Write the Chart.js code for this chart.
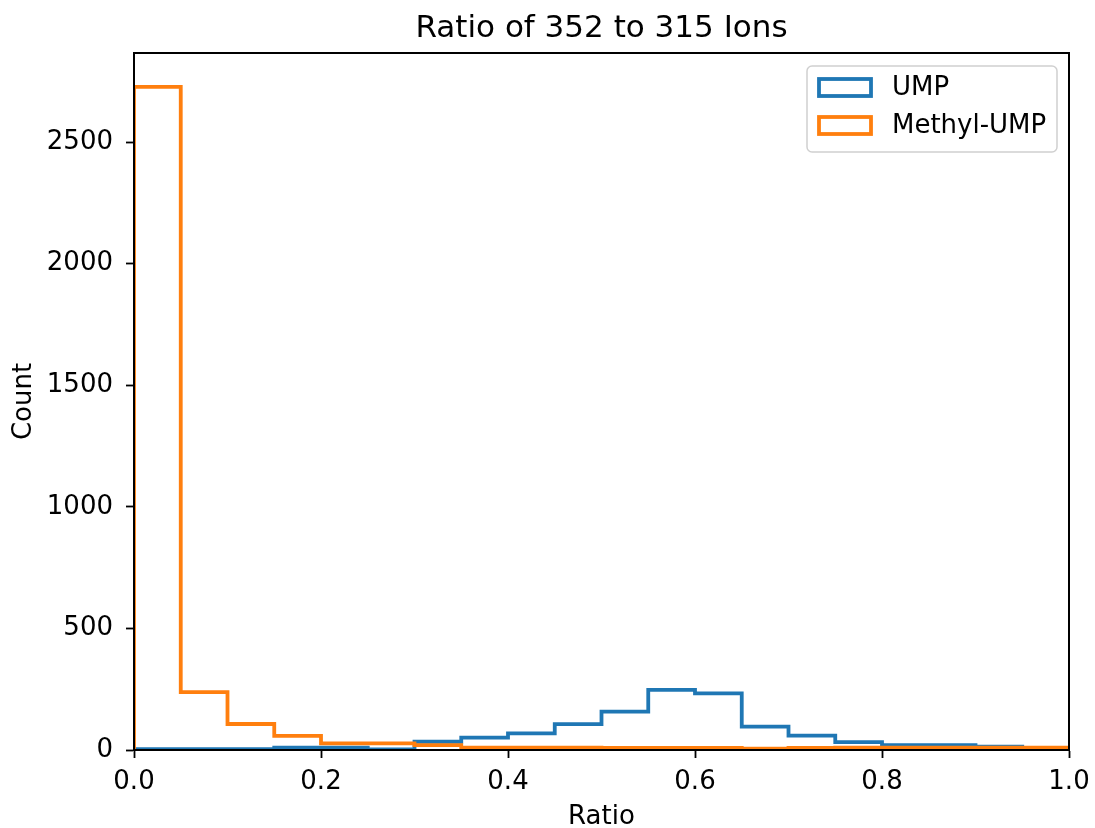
<!DOCTYPE html>
<html>
<head>
<meta charset="utf-8">
<script src="https://cdn.jsdelivr.net/npm/chart.js@4.4.1/dist/chart.umd.min.js"></script>
<style>
  html, body { margin: 0; padding: 0; background: #ffffff; }
  #wrap { width: 1095px; height: 828px; position: relative; }
</style>
</head>
<body>
<div id="wrap"><canvas id="c" width="1095" height="828"></canvas></div>
<script>
// ---- Data ----
const binEdges = [0.00, 0.05, 0.10, 0.15, 0.20, 0.25, 0.30, 0.35, 0.40, 0.45,
                  0.50, 0.55, 0.60, 0.65, 0.70, 0.75, 0.80, 0.85, 0.90, 0.95, 1.00];
const umpCounts = [3, 3, 3, 10, 10, 2, 34, 51, 68, 106,
                   158, 247, 233, 96, 59, 32, 20, 20, 14, 0];
const methylCounts = [2727, 238, 107, 58, 27, 27, 20, 10, 10, 10,
                      9, 9, 9, 6, 9, 10, 10, 10, 10, 10];
const xTicks = [0.0, 0.2, 0.4, 0.6, 0.8, 1.0];
const yTicks = [0, 500, 1000, 1500, 2000, 2500];
const seriesNames = ['UMP', 'Methyl-UMP'];
const seriesColors = ['#1f77b4', '#ff7f0e'];
const titleText = 'Ratio of 352 to 315 Ions';
const xLabel = 'Ratio';
const yLabel = 'Count';

// Build step outline points (histtype="step") from the bin arrays
function stepPoints(counts) {
  const pts = [{x: binEdges[0], y: 0}];
  for (let i = 0; i < counts.length; i++) pts.push({x: binEdges[i], y: counts[i]});
  pts.push({x: binEdges[binEdges.length - 1], y: 0});
  return pts;
}

const FONT = "'DejaVu Sans', sans-serif";
const FS = 26;
const L = 134, R = 1069, T = 53, B = 750;

const framePlugin = {
  id: 'frame',
  afterDatasetsDraw(chart) {
    const {ctx, chartArea: a} = chart;
    ctx.save();
    ctx.strokeStyle = '#000';
    ctx.lineWidth = 2;
    ctx.strokeRect(a.left, a.top, a.right - a.left, a.bottom - a.top);
    ctx.restore();
  },
  afterDraw(chart) {
    const {ctx, chartArea: a} = chart;
    ctx.save();
    // title
    ctx.fillStyle = '#000';
    ctx.font = "31px " + FONT;
    ctx.textAlign = 'center';
    ctx.textBaseline = 'middle';
    ctx.fillText(titleText, (a.left + a.right) / 2, 28.5);
    // legend
    const bx = 807, by = 66, bw = 250, bh = 86, r = 5;
    ctx.beginPath();
    ctx.moveTo(bx + r, by);
    ctx.arcTo(bx + bw, by, bx + bw, by + bh, r);
    ctx.arcTo(bx + bw, by + bh, bx, by + bh, r);
    ctx.arcTo(bx, by + bh, bx, by, r);
    ctx.arcTo(bx, by, bx + bw, by, r);
    ctx.closePath();
    ctx.fillStyle = 'rgba(255,255,255,0.8)';
    ctx.fill();
    ctx.strokeStyle = '#d0d0d0';
    ctx.lineWidth = 1.5;
    ctx.stroke();
    const rows = [87.5, 125.5];
    ctx.font = FS + "px " + FONT;
    ctx.textAlign = 'left';
    ctx.textBaseline = 'middle';
    for (let i = 0; i < seriesNames.length; i++) {
      ctx.strokeStyle = seriesColors[i];
      ctx.lineWidth = 3.8;
      ctx.strokeRect(819, rows[i] - 8.5, 52, 17);
      ctx.fillStyle = '#000';
      ctx.fillText(seriesNames[i], 892, rows[i] + 1);
    }
    ctx.restore();
  }
};

new Chart(document.getElementById('c'), {
  type: 'line',
  data: {
    datasets: [
      { label: seriesNames[0], data: stepPoints(umpCounts), borderColor: seriesColors[0],
        borderWidth: 3.8, stepped: true, pointRadius: 0, fill: false, order: 2 },
      { label: seriesNames[1], data: stepPoints(methylCounts), borderColor: seriesColors[1],
        borderWidth: 3.8, stepped: true, pointRadius: 0, fill: false, order: 1 }
    ]
  },
  options: {
    responsive: false,
    animation: false,
    devicePixelRatio: 1,
    layout: { padding: { left: 0, top: T, right: 1095 - R, bottom: 0 } },
    plugins: { legend: { display: false }, title: { display: false }, tooltip: { enabled: false } },
    scales: {
      x: {
        type: 'linear', min: 0, max: 1,
        afterBuildTicks: s => { s.ticks = xTicks.map(v => ({value: v})); },
        afterFit: s => { s.height = 828 - B; s.paddingLeft = 0; s.paddingRight = 0; },
        ticks: { color: '#000', font: { family: FONT, size: FS }, padding: 9,
                 maxRotation: 0, autoSkip: false, callback: v => Number(v).toFixed(1) },
        grid: { display: true, drawOnChartArea: false, drawTicks: true, tickLength: 8,
                color: '#000', tickColor: '#000', tickWidth: 1.8 },
        border: { display: true, color: '#000', width: 2 },
        title: { display: true, text: xLabel, color: '#000', font: { family: FONT, size: FS },
                 padding: { top: 0, bottom: -5 } }
      },
      y: {
        type: 'linear', min: 0, max: 2866,
        afterBuildTicks: s => { s.ticks = yTicks.map(v => ({value: v})); },
        afterFit: s => { s.width = L; s.paddingTop = 0; s.paddingBottom = 0; },
        ticks: { color: '#000', font: { family: FONT, size: FS }, padding: 13, autoSkip: false,
                 callback: v => String(v) },
        grid: { display: true, drawOnChartArea: false, drawTicks: true, tickLength: 8,
                color: '#000', tickColor: '#000', tickWidth: 1.8 },
        border: { display: true, color: '#000', width: 2 },
        title: { display: true, text: yLabel, color: '#000', font: { family: FONT, size: FS },
                 padding: { top: 9, bottom: 0 } }
      }
    }
  },
  plugins: [framePlugin]
});
</script>
</body>
</html>
